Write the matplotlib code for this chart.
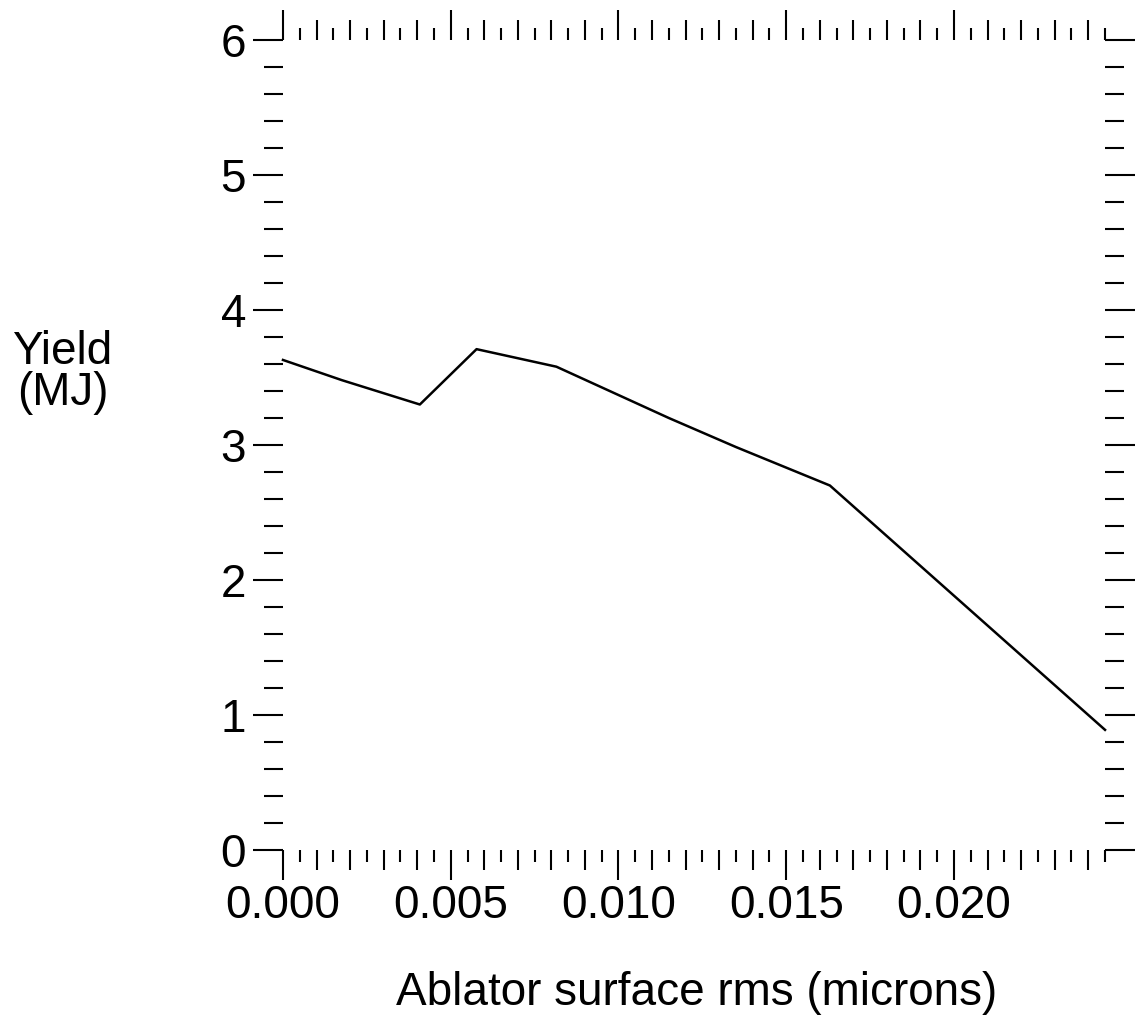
import numpy as np
import matplotlib
matplotlib.use("Agg")
import matplotlib.pyplot as plt
from matplotlib.ticker import FixedLocator, MultipleLocator, NullFormatter

plt.rcParams['font.family'] = ['Liberation Sans', 'DejaVu Sans']

# yield vs. ablator roughness
rms = [0.0, 0.00176, 0.00408, 0.00577, 0.00815, 0.0115, 0.0135, 0.0163, 0.0245]
yield_mj = [3.63, 3.48, 3.30, 3.71, 3.58, 3.20, 2.985, 2.70, 0.89]

x_major = [0.000, 0.005, 0.010, 0.015, 0.020]
x_labels = ["0.000", "0.005", "0.010", "0.015", "0.020"]
y_major = [0, 1, 2, 3, 4, 5, 6]

fs = 33

fig = plt.figure(figsize=(11.35, 10.23), dpi=100)
ax = fig.add_axes([0.2493, 0.1691, 0.9736 - 0.2493, 0.9609 - 0.1691])

ax.plot(rms, yield_mj, color='black', lw=1.8, clip_on=False)

ax.set_xlim(0, 0.0245)
ax.set_ylim(0, 6)

for s in ax.spines.values():
    s.set_visible(False)

ax.set_xticks(x_major)
ax.set_xticklabels(x_labels)
ax.xaxis.set_minor_locator(MultipleLocator(0.001))
ax.set_yticks(y_major)
ax.yaxis.set_minor_locator(MultipleLocator(0.2))

ax.tick_params(axis='x', which='major', direction='out', length=21.6, width=1.5,
               top=True, bottom=True, labelsize=fs, pad=3)
ax.tick_params(axis='x', which='minor', direction='out', length=14.5, width=1.5,
               top=True, bottom=True)
ax.tick_params(axis='y', which='major', direction='out', length=21.6, width=1.5,
               left=True, right=True, labelsize=fs, pad=5)
ax.tick_params(axis='y', which='minor', direction='out', length=13.5, width=1.5,
               left=True, right=True)

# shortest ticks at the half-step positions, top and bottom
half = np.arange(0.0005, 0.0246, 0.001)
for side in ('bottom', 'top'):
    sec = ax.secondary_xaxis(side)
    sec.spines[side].set_visible(False)
    sec.xaxis.set_major_locator(FixedLocator(half))
    sec.xaxis.set_major_formatter(NullFormatter())
    sec.tick_params(which='major', direction='out', length=8.5, width=1.5)

fig.text(0.055, 0.6442, "Yield", fontsize=fs, ha='center', va='baseline')
fig.text(0.055, 0.6041, "(MJ)", fontsize=fs, ha='center', va='baseline')
fig.text(0.614, 0.0176, "Ablator surface rms (microns)", fontsize=fs,
         ha='center', va='baseline')

fig.savefig("out.png", dpi=100)
